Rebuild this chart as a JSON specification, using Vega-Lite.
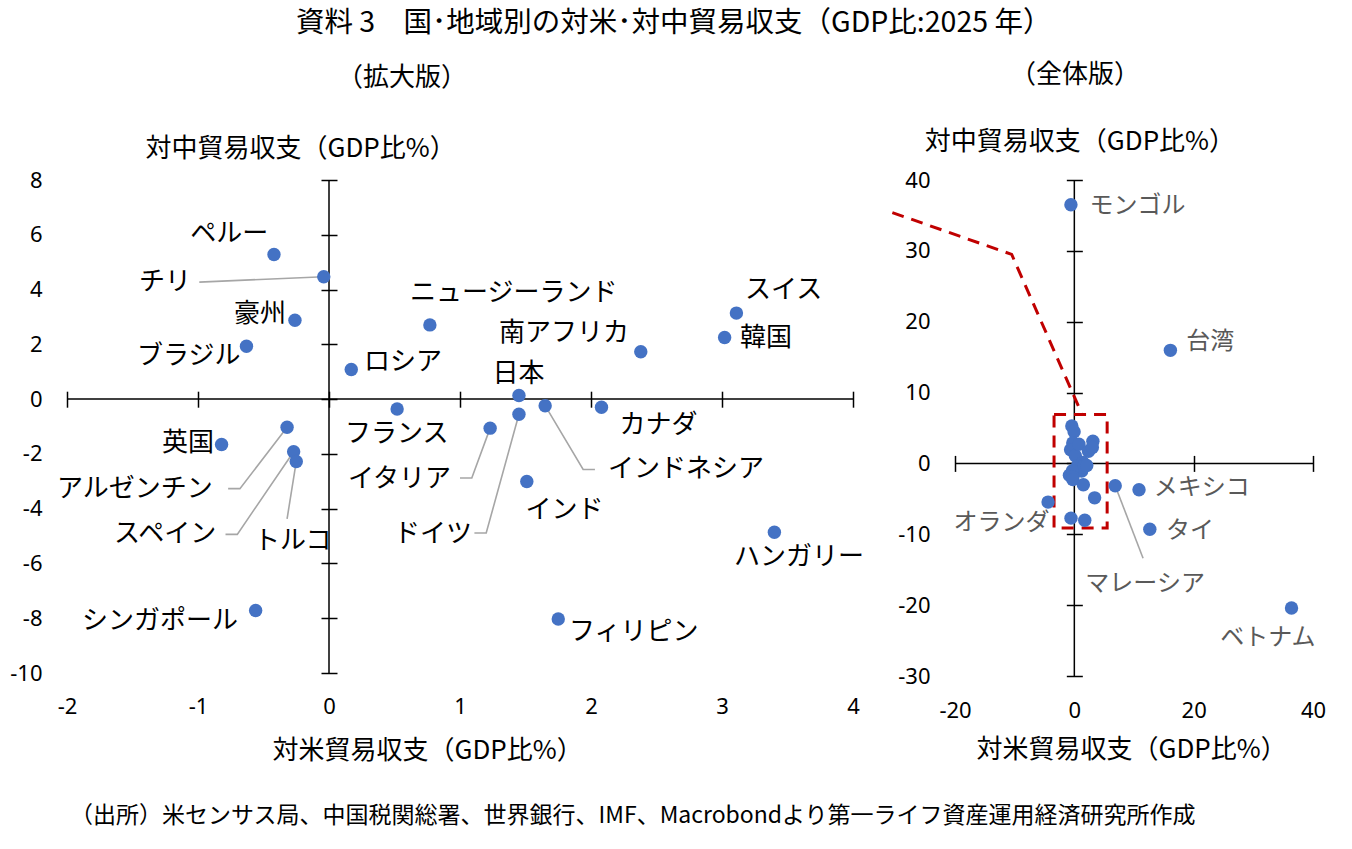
{
  "$schema": "https://vega.github.io/schema/vega-lite/v6.json",
  "background": "white",
  "padding": {"left": 9, "top": 8, "right": 10, "bottom": 10},
  "config": {
    "view": {"stroke": null},
    "font": "Noto Sans CJK JP",
    "axis": {"grid": false}
  },
  "title": {
    "text": "資料 3　国･地域別の対米･対中貿易収支（GDP比:2025 年）",
    "font": "Noto Sans CJK JP",
    "fontSize": 28.5,
    "fontWeight": "normal",
    "color": "black",
    "anchor": "middle",
    "dx": 6,
    "offset": 25
  },
  "datasets": {
    "countries": [
      {"name": "ペルー", "us": -0.42, "cn": 5.28, "lx": -1.06, "ly": 6.02},
      {"name": "チリ", "us": -0.04, "cn": 4.47, "lx": -1.45, "ly": 4.27},
      {"name": "豪州", "us": -0.26, "cn": 2.88, "lx": -0.725, "ly": 3.1},
      {"name": "ブラジル", "us": -0.63, "cn": 1.93, "lx": -1.466, "ly": 1.57},
      {"name": "ロシア", "us": 0.17, "cn": 1.08, "lx": 0.267, "ly": 1.35},
      {"name": "ニュージーランド", "us": 0.77, "cn": 2.71, "lx": 0.618, "ly": 3.87},
      {"name": "南アフリカ", "us": 2.38, "cn": 1.73, "lx": 1.298, "ly": 2.41},
      {"name": "スイス", "us": 3.11, "cn": 3.14, "lx": 3.176, "ly": 3.98},
      {"name": "韓国", "us": 3.02, "cn": 2.25, "lx": 3.137, "ly": 2.23},
      {"name": "日本", "us": 1.45, "cn": 0.13, "lx": 1.248, "ly": 0.91},
      {"name": "フランス", "us": 0.52, "cn": -0.36, "lx": 0.122, "ly": -1.28},
      {"name": "イタリア", "us": 1.23, "cn": -1.06, "lx": 0.145, "ly": -2.92},
      {"name": "ドイツ", "us": 1.45, "cn": -0.55, "lx": 0.496, "ly": -4.93},
      {"name": "インドネシア", "us": 1.65, "cn": -0.24, "lx": 2.13, "ly": -2.55},
      {"name": "カナダ", "us": 2.08, "cn": -0.3, "lx": 2.218, "ly": -0.95},
      {"name": "インド", "us": 1.51, "cn": -3.01, "lx": 1.5, "ly": -4.05},
      {"name": "ハンガリー", "us": 3.4, "cn": -4.86, "lx": 3.092, "ly": -5.77},
      {"name": "フィリピン", "us": 1.75, "cn": -8.03, "lx": 1.832, "ly": -8.5},
      {"name": "英国", "us": -0.82, "cn": -1.66, "lx": -1.275, "ly": -1.61},
      {"name": "アルゼンチン", "us": -0.32, "cn": -1.03, "lx": -2.076, "ly": -3.28},
      {"name": "スペイン", "us": -0.27, "cn": -1.92, "lx": -1.641, "ly": -4.93},
      {"name": "トルコ", "us": -0.25, "cn": -2.28, "lx": -0.573, "ly": -5.18},
      {"name": "シンガポール", "us": -0.56, "cn": -7.72, "lx": -1.885, "ly": -8.1},
      {"name": "モンゴル", "us": -0.57, "cn": 36.5, "lx": 2.53, "ly": 36.4},
      {"name": "台湾", "us": 16.1, "cn": 15.96, "lx": 18.77, "ly": 17.2},
      {"name": "メキシコ", "us": 10.84, "cn": -3.71, "lx": 13.32, "ly": -3.53},
      {"name": "タイ", "us": 12.65, "cn": -9.28, "lx": 15.35, "ly": -9.6},
      {"name": "ベトナム", "us": 36.4, "cn": -20.4, "lx": 24.45, "ly": -24.6},
      {"name": "オランダ", "us": -4.4, "cn": -5.46, "lx": -20.24, "ly": -8.47},
      {"name": "マレーシア", "us": 6.85, "cn": -3.15, "lx": 1.85, "ly": -16.95}
    ],
    "leadersZoom": [
      {"name": "チリ", "seq": 1, "x": -0.99, "y": 4.27},
      {"name": "チリ", "seq": 2, "x": -0.04, "y": 4.47},
      {"name": "アルゼンチン", "seq": 1, "x": -0.77, "y": -3.27},
      {"name": "アルゼンチン", "seq": 2, "x": -0.68, "y": -3.27},
      {"name": "アルゼンチン", "seq": 3, "x": -0.32, "y": -1.03},
      {"name": "スペイン", "seq": 1, "x": -0.79, "y": -4.94},
      {"name": "スペイン", "seq": 2, "x": -0.7, "y": -4.94},
      {"name": "スペイン", "seq": 3, "x": -0.27, "y": -1.92},
      {"name": "トルコ", "seq": 1, "x": -0.32, "y": -4.37},
      {"name": "トルコ", "seq": 2, "x": -0.25, "y": -2.28},
      {"name": "イタリア", "seq": 1, "x": 1.0, "y": -2.88},
      {"name": "イタリア", "seq": 2, "x": 1.09, "y": -2.88},
      {"name": "イタリア", "seq": 3, "x": 1.23, "y": -1.06},
      {"name": "ドイツ", "seq": 1, "x": 1.11, "y": -4.89},
      {"name": "ドイツ", "seq": 2, "x": 1.2, "y": -4.89},
      {"name": "ドイツ", "seq": 3, "x": 1.45, "y": -0.55},
      {"name": "インドネシア", "seq": 1, "x": 2.03, "y": -2.57},
      {"name": "インドネシア", "seq": 2, "x": 1.94, "y": -2.57},
      {"name": "インドネシア", "seq": 3, "x": 1.65, "y": -0.24}
    ],
    "leadersFull": [
      {"name": "マレーシア", "seq": 1, "x": 11.52, "y": -13.38},
      {"name": "マレーシア", "seq": 2, "x": 6.85, "y": -3.15}
    ],
    "callout": [
      {"seq": 1, "x": -30.5, "y": 35.4},
      {"seq": 2, "x": -10.5, "y": 29.5},
      {"seq": 3, "x": 1.3, "y": 6.9}
    ],
    "zoomBox": [
      {"x1": -3.4, "x2": 5.5, "y1": -9.1, "y2": 6.9}
    ]
  },
  "vconcat": [
    {
      "title": {
        "text": "（出所）米センサス局、中国税関総署、世界銀行、IMF、Macrobondより第一ライフ資産運用経済研究所作成",
        "orient": "bottom",
        "anchor": "start",
        "frame": "group",
        "dx": 3,
        "offset": 42,
        "font": "Noto Sans CJK JP",
        "fontSize": 23,
        "fontWeight": "normal",
        "color": "black"
      },
      "bounds": "flush",
      "spacing": 102,
      "hconcat": [
        {
          "width": 786,
          "height": 493,
          "title": {
            "text": "（拡大版）",
            "anchor": "start",
            "frame": "group",
            "dx": 270,
            "offset": 45,
            "font": "Noto Sans CJK JP",
            "fontSize": 26,
            "fontWeight": "normal",
            "color": "black"
          },
          "layer": [
            {
              "data": {"values": [{}]},
              "mark": {"type": "rule", "color": "black", "strokeWidth": 1.5},
              "encoding": {
                "x": {"datum": 0, "type": "quantitative", "scale": {"domain": [-2, 4], "nice": false, "zero": false}}
              }
            },
            {
              "data": {"values": [{}]},
              "mark": {"type": "rule", "color": "black", "strokeWidth": 1.5},
              "encoding": {
                "y": {"datum": 0, "type": "quantitative", "scale": {"domain": [-10, 8], "nice": false, "zero": false}}
              }
            },
            {
              "data": {"name": "leadersZoom"},
              "mark": {"type": "line", "color": "#A6A6A6", "strokeWidth": 1.6},
              "encoding": {
                "x": {"field": "x", "type": "quantitative", "scale": {"domain": [-2, 4], "nice": false, "zero": false}},
                "y": {"field": "y", "type": "quantitative", "scale": {"domain": [-10, 8], "nice": false, "zero": false}},
                "detail": {"field": "name"},
                "order": {"field": "seq"}
              }
            },
            {
              "data": {"name": "countries"},
              "transform": [{"filter": "datum.us >= -2 && datum.us <= 4 && datum.cn >= -10 && datum.cn <= 8"}],
              "mark": {"type": "circle", "size": 180, "color": "#4472C4", "opacity": 1},
              "encoding": {
                "x": {
                  "field": "us", "type": "quantitative",
                  "scale": {"domain": [-2, 4], "nice": false, "zero": false},
                  "axis": {
                    "orient": "bottom", "offset": -281.8, "domain": false, "grid": false,
                    "ticks": true, "tickSize": 16, "tickWidth": 1.5, "tickColor": "black",
                    "values": [-2, -1, 0, 1, 2, 3, 4], "labelExpr": "'' + datum.value",
                    "labelFont": "Noto Sans", "labelFontSize": 22, "labelColor": "black",
                    "labelPadding": 289, "labelFlush": false, "labelOverlap": false, "labelBaseline": "top",
                    "title": "対米貿易収支（GDP比%）", "titleFont": "Noto Sans CJK JP", "titleFontSize": 26,
                    "titleFontWeight": "normal", "titleColor": "black", "titleAlign": "left",
                    "titleBaseline": "middle", "titleX": 205, "titleY": 358.8
                  }
                },
                "y": {
                  "field": "cn", "type": "quantitative",
                  "scale": {"domain": [-10, 8], "nice": false, "zero": false},
                  "axis": {
                    "orient": "left", "offset": -270, "domain": false, "grid": false,
                    "ticks": true, "tickSize": 16, "tickWidth": 1.5, "tickColor": "black",
                    "values": [-10, -8, -6, -4, -2, 0, 2, 4, 6, 8], "labelExpr": "'' + datum.value",
                    "labelFont": "Noto Sans", "labelFontSize": 22, "labelColor": "black",
                    "labelPadding": 279, "labelFlush": false, "labelOverlap": false,
                    "labelAlign": "right", "labelBaseline": "middle",
                    "title": "対中貿易収支（GDP比%）", "titleFont": "Noto Sans CJK JP", "titleFontSize": 26,
                    "titleFontWeight": "normal", "titleColor": "black", "titleAngle": 0, "titleAlign": "left",
                    "titleBaseline": "middle", "titleX": -192, "titleY": -31.3
                  }
                }
              }
            },
            {
              "data": {"name": "countries"},
              "transform": [{"filter": "datum.us >= -2 && datum.us <= 4 && datum.cn >= -10 && datum.cn <= 8"}],
              "mark": {"type": "text", "align": "left", "baseline": "middle", "font": "Noto Sans CJK JP", "fontSize": 26, "color": "black"},
              "encoding": {
                "x": {"field": "lx", "type": "quantitative", "scale": {"domain": [-2, 4], "nice": false, "zero": false}},
                "y": {"field": "ly", "type": "quantitative", "scale": {"domain": [-10, 8], "nice": false, "zero": false}},
                "text": {"field": "name"}
              }
            }
          ]
        },
        {
          "width": 358,
          "height": 496,
          "title": {
            "text": "（全体版）",
            "anchor": "start",
            "frame": "group",
            "dx": 55,
            "offset": 40,
            "font": "Noto Sans CJK JP",
            "fontSize": 26,
            "fontWeight": "normal",
            "color": "black"
          },
          "layer": [
            {
              "data": {"values": [{}]},
              "mark": {"type": "rule", "color": "black", "strokeWidth": 1.5},
              "encoding": {
                "x": {"datum": 0, "type": "quantitative", "scale": {"domain": [-20, 40], "nice": false, "zero": false}}
              }
            },
            {
              "data": {"values": [{}]},
              "mark": {"type": "rule", "color": "black", "strokeWidth": 1.5},
              "encoding": {
                "y": {"datum": 0, "type": "quantitative", "scale": {"domain": [-30, 40], "nice": false, "zero": false}}
              }
            },
            {
              "data": {"name": "callout"},
              "mark": {"type": "line", "color": "#C00000", "strokeWidth": 3, "strokeDash": [12, 8], "clip": false},
              "encoding": {
                "x": {"field": "x", "type": "quantitative", "scale": {"domain": [-20, 40], "nice": false, "zero": false}},
                "y": {"field": "y", "type": "quantitative", "scale": {"domain": [-30, 40], "nice": false, "zero": false}},
                "order": {"field": "seq"}
              }
            },
            {
              "data": {"name": "zoomBox"},
              "mark": {"type": "rect", "fillOpacity": 0, "stroke": "#C00000", "strokeWidth": 3, "strokeDash": [12, 8]},
              "encoding": {
                "x": {"field": "x1", "type": "quantitative", "scale": {"domain": [-20, 40], "nice": false, "zero": false}},
                "x2": {"field": "x2"},
                "y": {"field": "y1", "type": "quantitative", "scale": {"domain": [-30, 40], "nice": false, "zero": false}},
                "y2": {"field": "y2"}
              }
            },
            {
              "data": {"name": "leadersFull"},
              "mark": {"type": "line", "color": "#A6A6A6", "strokeWidth": 1.6},
              "encoding": {
                "x": {"field": "x", "type": "quantitative", "scale": {"domain": [-20, 40], "nice": false, "zero": false}},
                "y": {"field": "y", "type": "quantitative", "scale": {"domain": [-30, 40], "nice": false, "zero": false}},
                "detail": {"field": "name"},
                "order": {"field": "seq"}
              }
            },
            {
              "data": {"name": "countries"},
              "mark": {"type": "circle", "size": 180, "color": "#4472C4", "opacity": 1},
              "encoding": {
                "x": {
                  "field": "us", "type": "quantitative",
                  "scale": {"domain": [-20, 40], "nice": false, "zero": false},
                  "axis": {
                    "orient": "bottom", "offset": -220.6, "domain": false, "grid": false,
                    "ticks": true, "tickSize": 16, "tickWidth": 1.5, "tickColor": "black",
                    "values": [-20, 0, 20, 40], "labelExpr": "'' + datum.value",
                    "labelFont": "Noto Sans", "labelFontSize": 22, "labelColor": "black",
                    "labelPadding": 229, "labelFlush": false, "labelOverlap": false, "labelBaseline": "top",
                    "title": "対米貿易収支（GDP比%）", "titleFont": "Noto Sans CJK JP", "titleFontSize": 26,
                    "titleFontWeight": "normal", "titleColor": "black", "titleAlign": "left",
                    "titleBaseline": "middle", "titleX": 21, "titleY": 294.1
                  }
                },
                "y": {
                  "field": "cn", "type": "quantitative",
                  "scale": {"domain": [-30, 40], "nice": false, "zero": false},
                  "axis": {
                    "orient": "left", "offset": -127.33, "domain": false, "grid": false,
                    "ticks": true, "tickSize": 16, "tickWidth": 1.5, "tickColor": "black",
                    "values": [-30, -20, -10, 0, 10, 20, 30, 40], "labelExpr": "'' + datum.value",
                    "labelFont": "Noto Sans", "labelFontSize": 22, "labelColor": "black",
                    "labelPadding": 136.3, "labelFlush": false, "labelOverlap": false,
                    "labelAlign": "right", "labelBaseline": "middle",
                    "title": "対中貿易収支（GDP比%）", "titleFont": "Noto Sans CJK JP", "titleFontSize": 26,
                    "titleFontWeight": "normal", "titleColor": "black", "titleAngle": 0, "titleAlign": "left",
                    "titleBaseline": "middle", "titleX": -158, "titleY": -38.8
                  }
                }
              }
            },
            {
              "data": {"name": "countries"},
              "transform": [{"filter": "!(datum.us >= -2 && datum.us <= 4 && datum.cn >= -10 && datum.cn <= 8)"}],
              "mark": {"type": "text", "align": "left", "baseline": "middle", "font": "Noto Sans CJK JP", "fontSize": 24, "color": "#595959"},
              "encoding": {
                "x": {"field": "lx", "type": "quantitative", "scale": {"domain": [-20, 40], "nice": false, "zero": false}},
                "y": {"field": "ly", "type": "quantitative", "scale": {"domain": [-30, 40], "nice": false, "zero": false}},
                "text": {"field": "name"}
              }
            }
          ]
        }
      ]
    }
  ]
}
